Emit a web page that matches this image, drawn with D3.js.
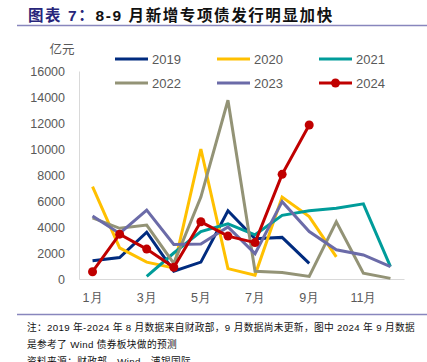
<!DOCTYPE html>
<html>
<head>
<meta charset="utf-8">
<script src="https://cdn.jsdelivr.net/npm/d3@7"></script>
<style>
  body { margin: 0; background: #fff; }
  svg { display: block; font-family: "Liberation Sans", Arial, "Noto Sans CJK SC", sans-serif; }
</style>
</head>
<body>
<svg id="chart" width="427" height="362"></svg>
<script>
var width = 427,
    height = 362;

// data (亿元)
const months = ["1月", "2月", "3月", "4月", "5月", "6月", "7月", "8月", "9月", "10月", "11月", "12月"];
const tickMonths = ["1月", "3月", "5月", "7月", "9月", "11月"];
const yTicks = [0, 2000, 4000, 6000, 8000, 10000, 12000, 14000, 16000];

const v2019 = [1400, 1650, 3600, 600, 1300, 5250, 3100, 3200, 1200, null, null, null];
const v2020 = [7100, 2400, 1300, 850, 10000, 800, 300, 6300, 4800, 1700, null, null];
const v2021 = [null, null, 200, 2000, 3650, 4250, 3400, 4900, 5250, 5450, 5780, 950];
const v2022 = [4700, 3900, 4150, 1200, 6300, 13750, 600, 500, 200, 4400, 450, 50];
const v2023 = [4850, 3500, 5300, 2650, 2700, 4000, 1950, 5950, 3650, 2250, 1850, 950];
const v2024 = [560, 3450, 2300, 900, 4400, 3300, 2800, 8050, 11850, null, null, null];

const series = [
  {name: "2019", values: v2019, color: "#002b7f"},
  {name: "2020", values: v2020, color: "#ffc000"},
  {name: "2021", values: v2021, color: "#009c9a"},
  {name: "2022", values: v2022, color: "#939376"},
  {name: "2023", values: v2023, color: "#6b6ba8"},
  {name: "2024", values: v2024, color: "#c00000", dots: true}
];

var svg = d3.select("#chart");

// title + rules
var title = svg.append("text")
  .attr("x", 28).attr("y", 21)
  .style("font-size", "15.5px").style("font-weight", "bold")
  .style("letter-spacing", "1.6px");
title.append("tspan").attr("fill", "#27257a").text("图表 7：");
title.append("tspan").attr("fill", "#111").text("8-9 月新增专项债发行明显加快");

svg.append("line").attr("x1", 17).attr("x2", width).attr("y1", 25.5).attr("y2", 25.5)
  .attr("stroke", "#8886bd").attr("stroke-width", 1.5);
svg.append("line").attr("x1", 17).attr("x2", width).attr("y1", 314.5).attr("y2", 314.5)
  .attr("stroke", "#8886bd").attr("stroke-width", 1.5);

// scales
var x = d3.scaleBand().domain(months).range([79, 404]);
var y = d3.scaleLinear().domain([0, 16000]).range([279, 71]);

var g = svg.append("g");

// axes
var yAxis = g.append("g").attr("transform", "translate(79,0)")
  .call(d3.axisLeft(y).tickValues(yTicks).tickSize(0).tickPadding(14).tickFormat(d3.format("d")));
yAxis.select(".domain").attr("stroke", "#d9d9d9");
yAxis.selectAll("text").attr("fill", "#595959").style("font-size", "12.5px");

var xAxis = g.append("g").attr("transform", "translate(0,279)")
  .call(d3.axisBottom(x).tickValues(tickMonths).tickSize(0).tickPadding(14));
xAxis.select(".domain").attr("stroke", "#d9d9d9");
xAxis.selectAll("text").attr("fill", "#595959").style("font-size", "12.5px");

svg.append("text").attr("x", 62).attr("y", 54).attr("text-anchor", "middle")
  .attr("fill", "#595959").style("font-size", "12.5px").text("亿元");

// lines
var line = d3.line()
  .defined(function(d) { return d != null; })
  .x(function(d, i) { return x(months[i]) + x.bandwidth() / 2; })
  .y(function(d) { return y(d); });

series.forEach(function(s) {
  g.append("path")
    .attr("d", line(s.values))
    .attr("fill", "none")
    .attr("stroke", s.color)
    .attr("stroke-width", 3)
    .attr("stroke-linejoin", "miter");
  if (s.dots) {
    g.selectAll(null)
      .data(s.values.map(function(d, i) { return {v: d, m: months[i]}; }).filter(function(d) { return d.v != null; }))
      .enter().append("circle")
      .attr("cx", function(d) { return x(d.m) + x.bandwidth() / 2; })
      .attr("cy", function(d) { return y(d.v); })
      .attr("r", 4.5)
      .attr("fill", s.color);
  }
});

// legend
var legend = svg.append("g");
series.forEach(function(s, i) {
  var lx = 115 + (i % 3) * 102,
      ly = 59 + Math.floor(i / 3) * 24;
  legend.append("line").attr("x1", lx).attr("x2", lx + 33).attr("y1", ly).attr("y2", ly)
    .attr("stroke", s.color).attr("stroke-width", 3);
  if (s.dots) {
    legend.append("circle").attr("cx", lx + 16.5).attr("cy", ly).attr("r", 4.5).attr("fill", s.color);
  }
  legend.append("text").attr("x", lx + 37).attr("y", ly + 4.5)
    .attr("fill", "#595959").style("font-size", "13px").text(s.name);
});

// notes (the last line is cut by the page edge, as in the original)
var notes = [
  "注：2019 年-2024 年 8 月数据来自财政部，9 月数据尚未更新，图中 2024 年 9 月数据",
  "是参考了 Wind 债券板块做的预测",
  "资料来源：财政部，Wind，浦银国际"
];
svg.selectAll(".note").data(notes).enter().append("text")
  .attr("class", "note")
  .attr("x", 27).attr("y", function(d, i) { return 331 + i * 17; })
  .attr("fill", "#111").style("font-size", "9.7px").style("letter-spacing", "0.35px")
  .text(function(d) { return d; });
</script>
</body>
</html>
